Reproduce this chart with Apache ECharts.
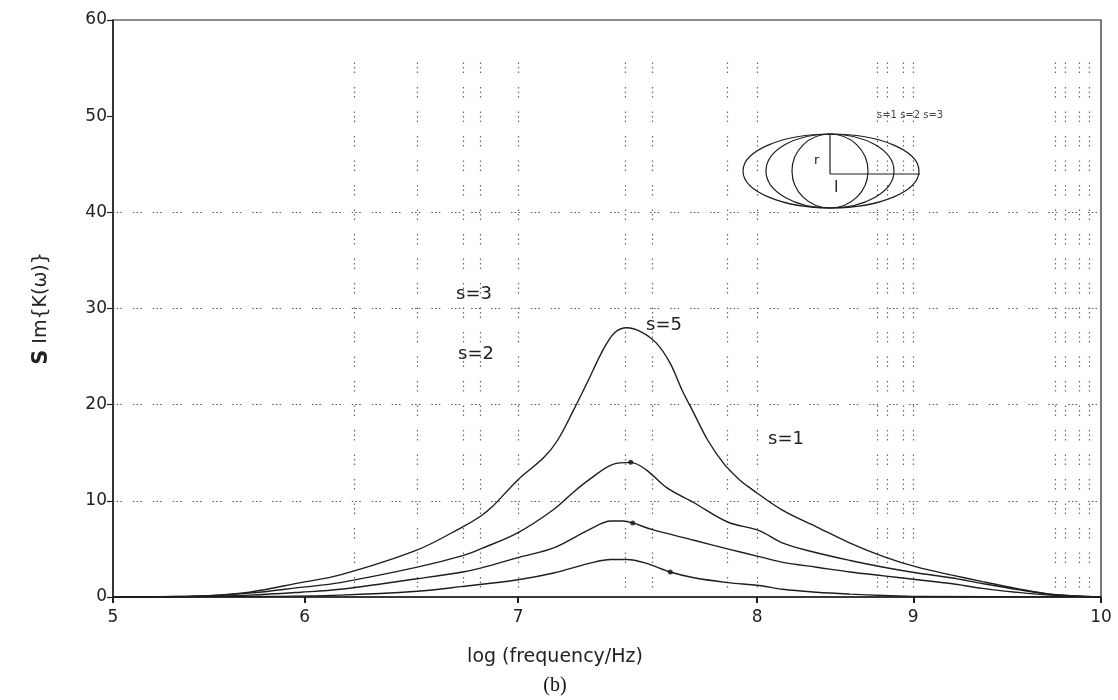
<!DOCTYPE html>
<html>
<head>
<meta charset="utf-8">
<script src="https://cdn.jsdelivr.net/npm/echarts@6/dist/echarts.min.js"></script>
<style>
html,body{margin:0;padding:0;background:#fff;}
#chart{width:1118px;height:700px;}
</style>
</head>
<body>
<div id="chart"></div>
<script>
// ---- data ----
const curve1 = [[5,0],[5.3,0.05],[5.53,0.2],[5.69,0.5],[5.95,1.5],[6.15,2.3],[6.54,4.9],[6.77,7.3],[6.86,8.4],[6.92,9.4],[7.05,12.2],[7.18,14.5],[7.25,16.3],[7.33,19.4],[7.40,22.3],[7.48,25.7],[7.54,27.5],[7.60,28.0],[7.67,27.6],[7.75,26.4],[7.82,24.3],[7.88,21.5],[7.94,19.1],[8.01,16.3],[8.09,13.9],[8.17,12.2],[8.22,11.4],[8.39,9.0],[8.56,7.3],[8.73,5.6],[8.90,4.2],[9.07,3.1],[9.24,2.3],[9.40,1.6],[9.57,0.9],[9.74,0.3],[10,0]];
const curve2 = [[5,0],[5.35,0.05],[5.69,0.4],[5.95,1.0],[6.15,1.5],[6.54,3.1],[6.77,4.3],[6.86,5.0],[7.05,6.7],[7.23,9.1],[7.33,10.9],[7.41,12.2],[7.53,13.8],[7.62,14.0],[7.70,13.2],[7.80,11.4],[7.94,9.8],[8.11,7.8],[8.27,6.9],[8.39,5.6],[8.56,4.6],[8.73,3.8],[8.90,3.1],[9.07,2.5],[9.24,2.0],[9.40,1.4],[9.57,0.8],[9.74,0.3],[10,0]];
const curve3 = [[5,0],[5.4,0.05],[5.69,0.2],[5.95,0.5],[6.15,0.8],[6.54,1.9],[6.77,2.6],[6.86,3.0],[7.05,4.1],[7.23,5.1],[7.41,7.0],[7.52,7.9],[7.58,7.9],[7.63,7.7],[7.73,7.0],[7.94,5.9],[8.11,5.0],[8.27,4.2],[8.39,3.6],[8.56,3.1],[8.73,2.6],[8.90,2.2],[9.07,1.8],[9.24,1.4],[9.40,0.9],[9.57,0.5],[9.74,0.2],[10,0]];
const curve4 = [[5,0],[5.7,0.05],[6.15,0.2],[6.54,0.6],[6.77,1.1],[7.05,1.8],[7.23,2.5],[7.41,3.5],[7.52,3.9],[7.60,3.9],[7.70,3.5],[7.82,2.6],[7.94,2.0],[8.11,1.5],[8.27,1.2],[8.39,0.8],[8.56,0.5],[8.73,0.3],[8.90,0.15],[9.07,0.05],[10,0]];
const markedPoints = [[7.62,14.0],[7.63,7.7],[7.82,2.6]];
const xTickValues = [5, 5.97, 7.05, 8.26, 9.05, 10];
const xTickLabels = ['5','6','7','8','9','10'];
const yTickLabels = ['0','10','20','30','40','50','60'];
const hGridValues = [10, 20, 30, 40];
const vGridValues = [6.22, 6.54, 6.77, 6.86, 7.05, 7.59, 7.73, 8.11, 8.26, 8.87, 8.92, 9.00, 9.05, 9.77, 9.82, 9.89, 9.94];
const curveLabels = ['s=3', 's=2', 's=5', 's=1'];

const chart = echarts.init(document.getElementById('chart'), null, {renderer:'canvas'});
const ink = '#1e1e1e';
const lineSeries = [curve1, curve2, curve3, curve4].map((d, i) => ({
  type: 'line', name: 'curve' + (i + 1), data: d, smooth: 0.35, showSymbol: false,
  lineStyle: {color: ink, width: 1.4}, z: 5, animation: false
}));

const option = {
  animation: false,
  backgroundColor: '#fff',
  grid: {left: 113, right: 17, top: 20, bottom: 103, show: true, borderColor: ink, borderWidth: 1.2, backgroundColor: 'transparent'},
  xAxis: {
    type: 'value', min: 5, max: 10,
    axisLine: {lineStyle: {color: ink, width: 1.5}},
    axisTick: {customValues: xTickValues, length: 6, lineStyle: {color: ink, width: 2}},
    axisLabel: {customValues: xTickValues, color: '#222', fontSize: 17, fontFamily: 'DejaVu Sans', margin: 12,
      formatter: function (v) {
        let best = 0;
        xTickValues.forEach((t, i) => { if (Math.abs(t - v) < Math.abs(xTickValues[best] - v)) best = i; });
        return xTickLabels[best];
      }},
    splitLine: {show: false}
  },
  yAxis: {
    type: 'value', min: 0, max: 60, interval: 10,
    axisLine: {show: true, lineStyle: {color: ink, width: 1.5}},
    axisTick: {show: true, length: 6, lineStyle: {color: ink, width: 1.2}},
    axisLabel: {color: '#222', fontSize: 17, fontFamily: 'DejaVu Sans', margin: 6,
      formatter: function (v) { return yTickLabels[Math.round(v / 10)]; }},
    splitLine: {show: false},
    name: '{b|S} Im{K(ω)}', nameLocation: 'middle', nameGap: 61, nameRotate: 90,
    nameTextStyle: {color: '#222', fontSize: 19, fontFamily: 'DejaVu Sans',
      rich: {b: {fontSize: 21, fontWeight: 'bold', fontFamily: 'DejaVu Sans', color: '#222'}}}
  },
  series: [
    {
      type: 'line', data: [], silent: true,
      markLine: {
        silent: true, symbol: 'none', label: {show: false},
        lineStyle: {color: '#555', width: 1.2, type: [1.5, 2.2, 1.5, 2.2, 1.5, 11]},
        data: hGridValues.map(v => ({yAxis: v}))
      }
    },
    {
      type: 'line', data: [], silent: true,
      markLine: {
        silent: true, symbol: 'none', label: {show: false},
        lineStyle: {color: '#666', width: 1.2, type: [1.5, 3, 1.5, 3, 1.5, 14]},
        data: vGridValues.map(v => [{coord: [v, 1]}, {coord: [v, 56]}])
      }
    },
    ...lineSeries,
    {
      type: 'scatter', data: markedPoints, symbol: 'circle', symbolSize: 5,
      itemStyle: {color: '#111'}, z: 6
    }
  ],
  graphic: [
    {type: 'text', left: 456, top: 285, style: {text: curveLabels[0], fontSize: 18, fontFamily: 'DejaVu Sans', fill: '#222'}},
    {type: 'text', left: 458, top: 345, style: {text: curveLabels[1], fontSize: 18, fontFamily: 'DejaVu Sans', fill: '#222'}},
    {type: 'text', left: 646, top: 316, style: {text: curveLabels[2], fontSize: 18, fontFamily: 'DejaVu Sans', fill: '#222'}},
    {type: 'text', left: 768, top: 430, style: {text: curveLabels[3], fontSize: 18, fontFamily: 'DejaVu Sans', fill: '#222'}},
    // inset sketch
    {type: 'ellipse', shape: {cx: 831, cy: 171, rx: 88, ry: 37}, style: {fill: 'none', stroke: ink, lineWidth: 1.2}, z: 10},
    {type: 'ellipse', shape: {cx: 830, cy: 171, rx: 64, ry: 37}, style: {fill: 'none', stroke: ink, lineWidth: 1.2}, z: 10},
    {type: 'ellipse', shape: {cx: 830, cy: 171, rx: 38, ry: 37}, style: {fill: 'none', stroke: ink, lineWidth: 1.2}, z: 10},
    {type: 'line', shape: {x1: 830, y1: 134, x2: 830, y2: 174}, style: {stroke: ink, lineWidth: 1.2}, z: 10},
    {type: 'line', shape: {x1: 830, y1: 174, x2: 920, y2: 174}, style: {stroke: ink, lineWidth: 1.2}, z: 10},
    {type: 'text', left: 814, top: 154, style: {text: 'r', fontSize: 13, fontFamily: 'DejaVu Sans', fill: '#222'}, z: 10},
    {type: 'text', left: 834, top: 180, style: {text: 'l', fontSize: 16, fontFamily: 'DejaVu Sans', fill: '#222'}, z: 10},
    {type: 'text', left: 877, top: 110, style: {text: 's=1 s=2 s=3', fontSize: 10, fontFamily: 'DejaVu Sans', fill: '#444'}, z: 10},
    // axis title and caption
    {type: 'text', x: 555, y: 657, style: {text: 'log (frequency/Hz)', fontSize: 19, fontFamily: 'DejaVu Sans', fill: '#222', align: 'center', verticalAlign: 'middle'}},
    {type: 'text', x: 555, y: 686, style: {text: '(b)', fontSize: 20, fontFamily: 'Liberation Serif', fill: '#111', align: 'center', verticalAlign: 'middle'}}
  ]
};
chart.setOption(option);
</script>
</body>
</html>
